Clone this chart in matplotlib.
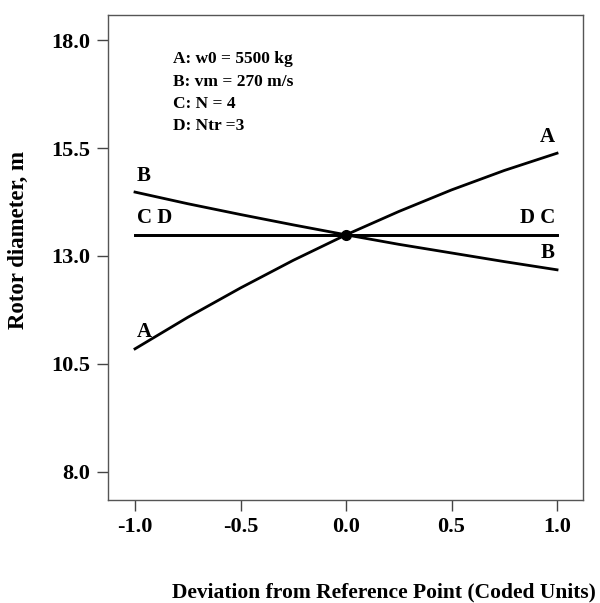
import matplotlib
matplotlib.use('Agg')
import matplotlib.pyplot as plt

# coded deviation from the reference point
dev = [-1.0, -0.75, -0.5, -0.25, 0.0, 0.25, 0.5, 0.75, 1.0]
# rotor diameter traces, m
trace_a = [10.85, 11.58, 12.26, 12.90, 13.49, 14.03, 14.53, 14.98, 15.38]
trace_b = [14.48, 14.21, 13.96, 13.72, 13.49, 13.27, 13.07, 12.87, 12.68]
trace_c = [13.49, 13.49, 13.49, 13.49, 13.49, 13.49, 13.49, 13.49, 13.49]
trace_d = [13.49, 13.49, 13.49, 13.49, 13.49, 13.49, 13.49, 13.49, 13.49]
ref_x = 0.0
ref_y = 13.49

xticks = [-1.0, -0.5, 0.0, 0.5, 1.0]
yticks = [8.0, 10.5, 13.0, 15.5, 18.0]
legend_lines = ['A: w0 = 5500 kg', 'B: vm = 270 m/s', 'C: N = 4', 'D: Ntr =3']

plt.rcParams['font.family'] = ['Liberation Serif', 'DejaVu Serif']
plt.rcParams['font.weight'] = 'bold'

fig = plt.figure(figsize=(6.0, 6.03), dpi=100)
ax = fig.add_axes([108 / 600, 1 - 500 / 603, 475 / 600, 485 / 603])

for y in [trace_a, trace_b, trace_c, trace_d]:
    ax.plot(dev, y, color='black', linewidth=2)
ax.plot([ref_x], [ref_y], 'o', color='black', markersize=7)

ax.set_xlim(-1.128, 1.123)
ax.set_ylim(7.35, 18.58)
ax.set_xticks(xticks)
ax.set_yticks(yticks)
ax.set_xticklabels(['%.1f' % v for v in xticks])
ax.set_yticklabels(['%.1f' % v for v in yticks])
ax.tick_params(direction='out', length=8, width=1, color='#444444',
               labelsize=16, pad=5)
for lab in ax.get_xticklabels() + ax.get_yticklabels():
    lab.set_fontweight('bold')
ax.tick_params(axis='x', pad=4)
for s in ax.spines.values():
    s.set_color('#555555')
    s.set_linewidth(1)

# trace labels
kw = dict(fontsize=15, fontweight='bold', color='black')
ax.text(-0.99, trace_b[0] + 0.15, 'B', ha='left', va='bottom', **kw)
ax.text(0.99, trace_a[-1] + 0.15, 'A', ha='right', va='bottom', **kw)
ax.text(-0.99, trace_c[0] + 0.15, 'C D', ha='left', va='bottom', **kw)
ax.text(0.99, trace_c[-1] + 0.15, 'D C', ha='right', va='bottom', **kw)
ax.text(0.99, trace_b[-1] + 0.15, 'B', ha='right', va='bottom', **kw)
ax.text(-0.99, trace_a[0] + 0.15, 'A', ha='left', va='bottom', **kw)

for i, t in enumerate(legend_lines):
    ax.text(-0.82, 17.55 - i * 0.51, t, ha='left', va='center',
            fontsize=12.5, fontweight='bold')

fig.text(18 / 600, 1 - 240 / 603, 'Rotor diameter, m', rotation=90,
         ha='center', va='center', fontsize=16.5, fontweight='bold')
fig.text(596 / 600, 1 - 592 / 603, 'Deviation from Reference Point (Coded Units)',
         ha='right', va='center', fontsize=15.5, fontweight='bold')

fig.savefig('out.png', dpi=100)
